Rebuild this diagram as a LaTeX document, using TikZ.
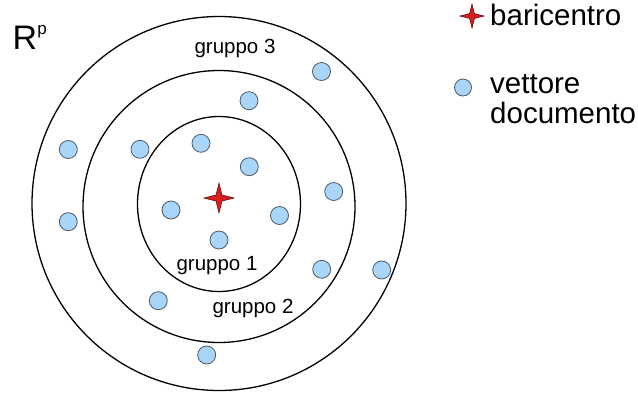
\documentclass[tikz,border=0pt]{standalone}
\usepackage{fontspec}
\setmainfont{Liberation Sans}
\usetikzlibrary{shapes.geometric}
\definecolor{dotfill}{HTML}{A8D5F8}
\definecolor{dotline}{HTML}{4D5A66}
\definecolor{starred}{HTML}{D81E1E}
\definecolor{starline}{HTML}{6A0A0A}
\tikzset{
  docdot/.style={circle, minimum size=18pt, inner sep=0pt, fill=dotfill, draw=dotline, line width=0.8pt},
  ring/.style={draw=black, line width=1.3pt, inner sep=0pt},
  grplabel/.style={anchor=base, inner sep=0pt, font=\fontsize{20.5}{24}\selectfont},
  legtext/.style={anchor=base west, inner sep=0pt, align=left, font=\fontsize{29.5}{30}\selectfont},
  starpath/.style={fill=starred, draw=starline, line width=0.6pt, line join=miter}
}
\newcommand{\fourstar}[3]{% center x, y, half size
  \path[starpath] (#1,#2-#3) -- (#1+0.2*#3,#2-0.2*#3) -- (#1+#3,#2) -- (#1+0.2*#3,#2+0.2*#3)
    -- (#1,#2+#3) -- (#1-0.2*#3,#2+0.2*#3) -- (#1-#3,#2) -- (#1-0.2*#3,#2-0.2*#3) -- cycle;}
\begin{document}
\begin{tikzpicture}[x=1pt,y=-1pt]
\useasboundingbox (0,0) rectangle (638,392);
% rings
\node[ring, circle, minimum size=374pt] (g3) at (219,203.5) {};
\node[ring, circle, minimum size=272pt] (g2) at (219,206.5) {};
\node[ring, ellipse, minimum width=163pt, minimum height=175pt] (g1) at (219,204) {};
% labels
\node[grplabel] (l3) at (235,53.3) {gruppo 3};
\node[grplabel] (l1) at (217,270.7) {gruppo 1};
\node[grplabel] (l2) at (253,313.3) {gruppo 2};
% R^p
\node[anchor=base west, inner sep=0pt] (rp) at (12.5,49.5) {\fontsize{34}{38}\selectfont R\raisebox{15pt}{\fontsize{17}{20}\selectfont p}};
% documents
\node[docdot] (d1) at (321.5,71.5) {};
\node[docdot] (d2) at (249,100.7) {};
\node[docdot] (d3) at (68.3,149.5) {};
\node[docdot] (d4) at (140,149.3) {};
\node[docdot] (d5) at (201,143.3) {};
\node[docdot] (d6) at (249.3,166.7) {};
\node[docdot] (d7) at (333.7,191.5) {};
\node[docdot] (d8) at (171,210) {};
\node[docdot] (d9) at (279.5,215.5) {};
\node[docdot] (d10) at (219,240) {};
\node[docdot] (d11) at (68.3,221.7) {};
\node[docdot] (d12) at (321.7,269.3) {};
\node[docdot] (d13) at (381.7,270) {};
\node[docdot] (d14) at (158.3,300.7) {};
\node[docdot] (d15) at (206.7,355) {};
% centroid
\fourstar{219}{198}{15}
\coordinate (c) at (219,198);
% legend
\fourstar{472}{16}{12}
\coordinate (lc) at (472,16);
\node[legtext] (lb) at (490,25) {baricentro};
\node[docdot, minimum size=17pt] (ld) at (463,87.5) {};
\node[legtext] (lv) at (490,123.3) {vettore\\documento};
\end{tikzpicture}
\end{document}
